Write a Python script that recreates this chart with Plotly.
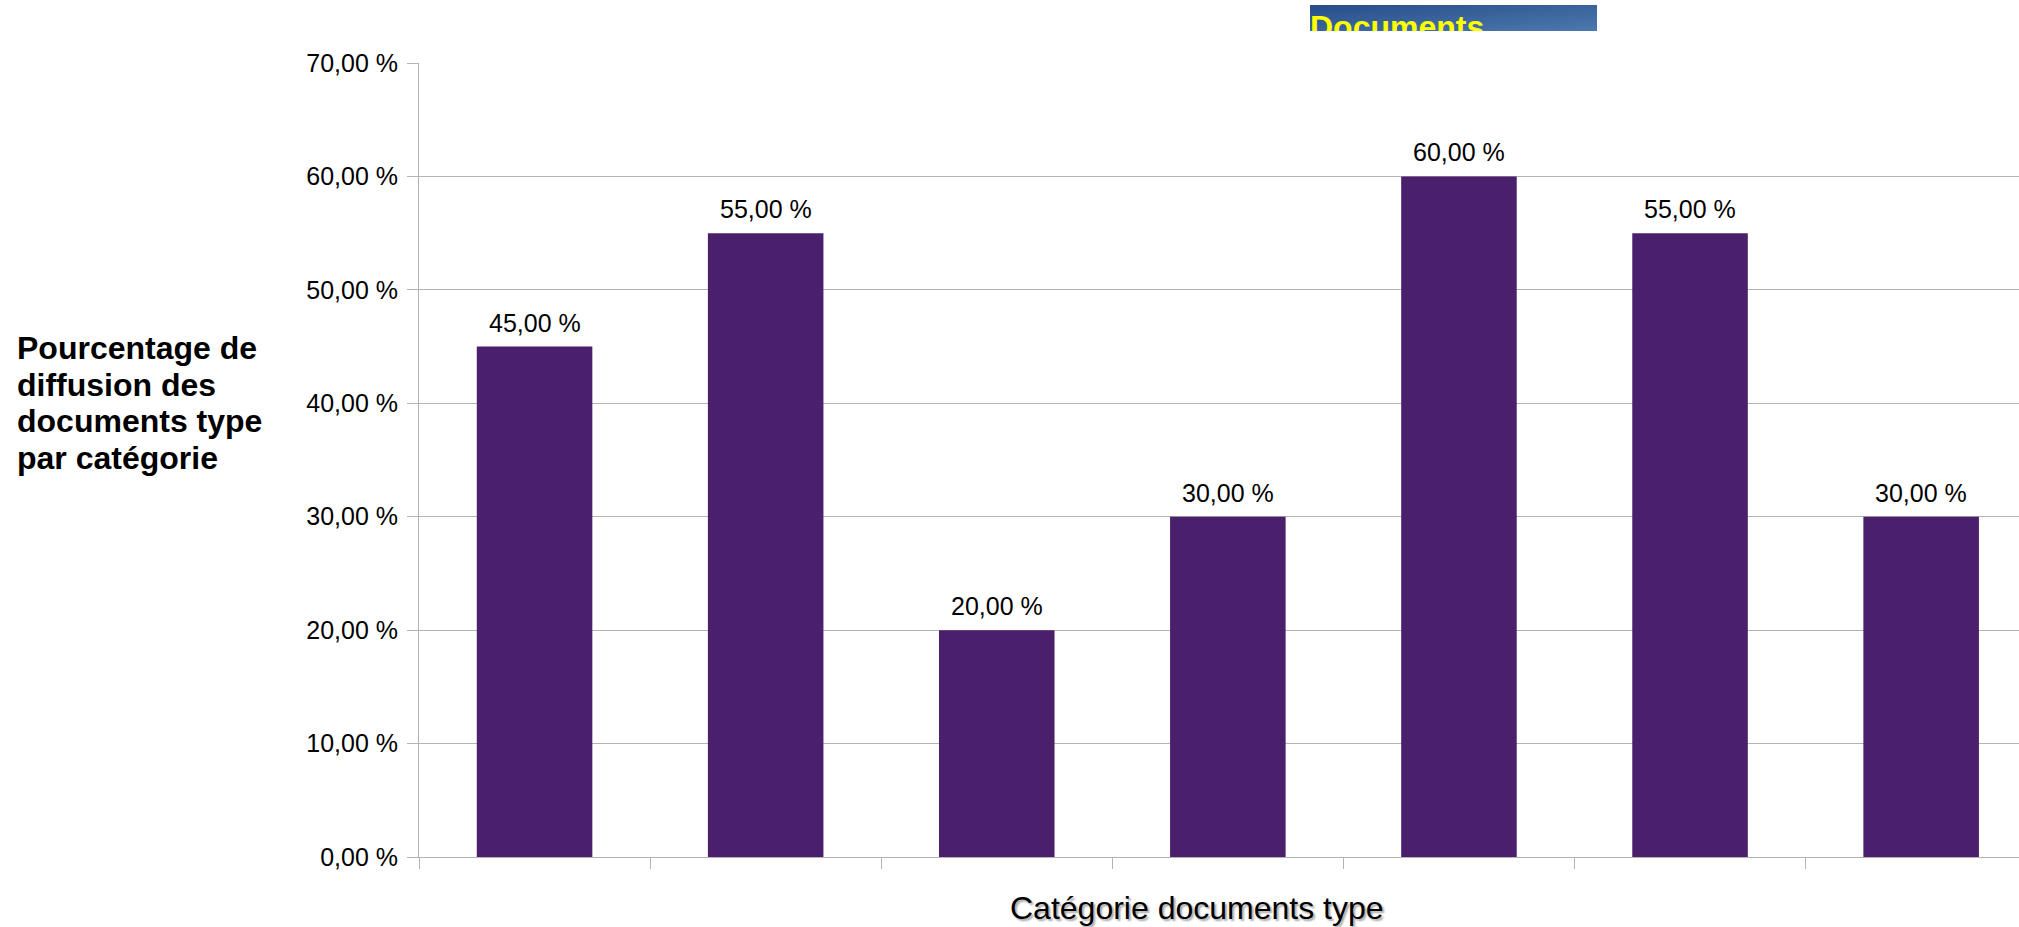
import base64
import plotly.graph_objects as go

# ---- data ----
categories = ["Catégorie 1", "Catégorie 2", "Catégorie 3", "Catégorie 4",
              "Catégorie 5", "Catégorie 6", "Catégorie 7"]
values = [45, 55, 20, 30, 60, 55, 30]
y_ticks = [0, 10, 20, 30, 40, 50, 60, 70]
y_tick_labels = ["0,00 %", "10,00 %", "20,00 %", "30,00 %", "40,00 %",
                 "50,00 %", "60,00 %", "70,00 %"]
value_labels = ["45,00 %", "55,00 %", "20,00 %", "30,00 %", "60,00 %",
                "55,00 %", "30,00 %"]
title_text = "Documents"
x_title = "Catégorie documents type"
y_title_lines = ["Pourcentage de", "diffusion des", "documents type", "par catégorie"]

FONT = "Liberation Sans"
BAR = "#4a1f6c"
GRID = "#b3b3b3"

W, H = 2019, 927
ML, MR, MT, MB = 419, 0, 5, 70
PW = W - ML - MR
PH = H - MT - MB


def px_x(px):
    return (px - ML) / PW


def px_y(py):
    return (H - MB - py) / PH


cat_w = 231.1
x_end = (W - ML) / cat_w - 0.5

fig = go.Figure()
fig.add_trace(go.Bar(
    x=categories, y=values,
    marker=dict(color=BAR, line=dict(width=0)),
    hoverinfo="skip",
))

# clipped title text in a small box subplot
fig.add_trace(go.Scatter(
    x=[0.0], y=[0.05], mode="text", text=[title_text],
    textposition="middle right",
    textfont=dict(family=FONT, size=32, color="#ffff00", weight="bold"),
    xaxis="x2", yaxis="y2", cliponaxis=True, hoverinfo="skip",
    showlegend=False,
))

box_x0, box_x1 = px_x(1310), px_x(1597)
box_y0, box_y1 = px_y(31), 1.0

svg = ('<svg xmlns="http://www.w3.org/2000/svg" width="287" height="26">'
       '<defs><linearGradient id="g" x1="0" y1="0" x2="1" y2="1">'
       '<stop offset="0" stop-color="#274d89"/><stop offset="1" stop-color="#4c79ae"/>'
       '</linearGradient></defs><rect width="287" height="26" fill="url(#g)"/></svg>')
src = "data:image/svg+xml;base64," + base64.b64encode(svg.encode()).decode()

annotations = []
# value labels above bars, positioned through the data axes
for c, v, lab in zip(categories, values, value_labels):
    annotations.append(dict(
        x=c, y=v, xref="x", yref="y", text=lab, showarrow=False,
        xanchor="center", yanchor="bottom", yshift=8,
        font=dict(family=FONT, size=25, color="black"),
    ))

annotations.append(dict(
    text=x_title, xref="paper", yref="paper", x=px_x(1197), y=px_y(908),
    xanchor="center", yanchor="middle", showarrow=False,
    font=dict(family=FONT, size=32, color="black",
              shadow="2px 2px 2px rgba(0,0,0,0.35)")))

line_centers = [347.6, 384.5, 421.4, 458.3]
for txt, yc in zip(y_title_lines, line_centers):
    annotations.append(dict(
        text="<b>" + txt + "</b>", xref="paper", yref="paper",
        x=px_x(15), y=px_y(yc), xanchor="left", yanchor="middle",
        align="left", showarrow=False,
        font=dict(family=FONT, size=32, color="black")))

fig.update_layout(
    width=W, height=H,
    margin=dict(l=ML, r=MR, t=MT, b=MB, autoexpand=False),
    paper_bgcolor="white",
    plot_bgcolor="rgba(0,0,0,0)",
    showlegend=False,
    bargap=0.5,
    font=dict(family=FONT, color="black"),
    xaxis=dict(
        type="category",
        domain=[0, 1],
        range=[-0.5, x_end],
        showticklabels=False,
        tickson="boundaries",
        ticks="outside", ticklen=11, tickcolor=GRID, tickwidth=1,
        showline=True, linecolor=GRID, linewidth=1,
        showgrid=False, zeroline=False, automargin=False,
    ),
    yaxis=dict(
        domain=[0, px_y(63)],
        range=[0, 70],
        tickvals=y_ticks,
        ticktext=y_tick_labels,
        tickfont=dict(family=FONT, size=25, color="black"),
        ticks="outside", ticklen=11, tickcolor=GRID, tickwidth=1,
        showline=True, linecolor=GRID, linewidth=1,
        showgrid=True, gridcolor=GRID, gridwidth=1,
        zeroline=False, automargin=False,
        ticklabelstandoff=4,
    ),
    xaxis2=dict(domain=[box_x0, box_x1], range=[0, 1], visible=False,
                anchor="y2", automargin=False),
    yaxis2=dict(domain=[box_y0, box_y1], range=[0, 1], visible=False,
                anchor="x2", automargin=False),
    images=[dict(source=src, xref="paper", yref="paper", x=box_x0, y=1.0,
                 sizex=box_x1 - box_x0, sizey=box_y1 - box_y0,
                 xanchor="left", yanchor="top", sizing="stretch", layer="below")],
    annotations=annotations,
)

fig.write_html("out.html")
